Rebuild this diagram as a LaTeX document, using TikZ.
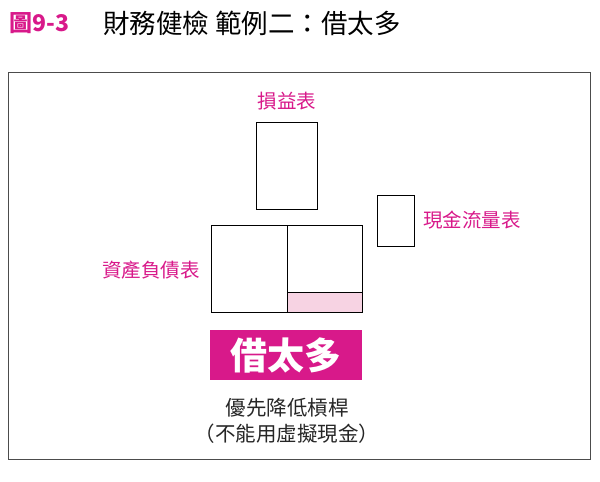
\documentclass[tikz,border=0pt]{standalone}
\usepackage{fontspec}
\newfontfamily\cjk{Noto Sans CJK TC}
\definecolor{mag}{HTML}{D8198A}
\definecolor{pinkf}{HTML}{F7D3E3}
\begin{document}
\begin{tikzpicture}[x=1pt,y=-1pt,
  bx/.style={draw=black,line width=0.8pt},
  lbl/.style={text=mag,font=\cjk\fontsize{19.5}{22}\selectfont,inner sep=0pt}]
\useasboundingbox (0,0) rectangle (600,482);
\draw[line width=0.8pt,black!70] (8,72) rectangle (590,459);
\node[anchor=west,inner sep=0pt,text=mag,font=\cjk\bfseries\fontsize{23}{26}\selectfont] (fig) at (9,23) {圖9-3};
\node[anchor=west,inner sep=0pt,font=\cjk\fontsize{26.5}{30}\selectfont] (title) at (103,23) {財務健檢 範例二：借太多};
\node[lbl] (is) at (287,101) {損益表};
\draw[bx] (256,122) rectangle (317,209);
\draw[bx] (377,195) rectangle (414,246);
\node[lbl,anchor=west] (cf) at (423,220) {現金流量表};
\node[lbl,anchor=east] (bs) at (200,270) {資產負債表};
\fill[pinkf] (287,292) rectangle (362,312);
\draw[bx] (211,225) rectangle (287,312);
\draw[bx] (287,225) rectangle (362,312);
\draw[line width=0.8pt] (287,292) -- (362,292);
\node[fill=mag,minimum width=152pt,minimum height=50pt,inner sep=0pt,text=white,font=\cjk\bfseries\fontsize{37}{40}\selectfont] (big) at (286,355) {借太多};
\node[inner sep=0pt,font=\cjk\fontsize{20.5}{23}\selectfont,text=black!85] (t1) at (287,408) {優先降低槓桿};
\node[inner sep=0pt,font=\cjk\fontsize{20.5}{23}\selectfont,text=black!85] (t2) at (287,434) {（不能用虛擬現金）};
\end{tikzpicture}
\end{document}
